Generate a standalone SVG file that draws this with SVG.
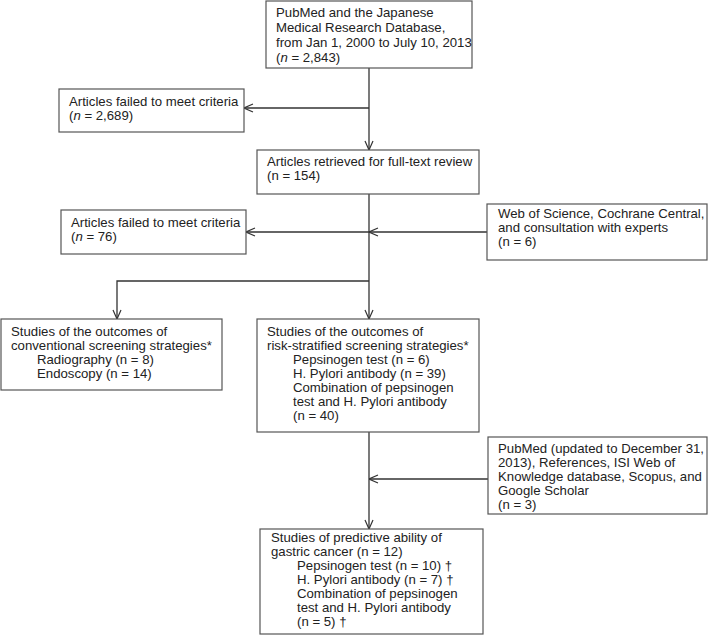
<svg xmlns="http://www.w3.org/2000/svg" width="708" height="641" viewBox="0 0 708 641">
<style>
.box{fill:#fff;stroke:#555;stroke-width:1.2}
.t{font-family:"Liberation Sans",Arial,sans-serif;font-size:13.2px;fill:#222}
.c{fill:none;stroke:#333;stroke-width:1.3}
</style>
<defs>
<marker id="ah" viewBox="0 0 10 10" refX="10" refY="5" markerWidth="10" markerHeight="10" markerUnits="userSpaceOnUse" orient="auto">
<path d="M1,1 L10,5 L1,9" fill="none" stroke="#333" stroke-width="1.2"/>
</marker>
</defs>
<rect width="708" height="641" fill="#fff"/>
<g id="connectors">
<path class="c" d="M369,68 V150" marker-end="url(#ah)"/>
<path class="c" d="M369,108 H244" marker-end="url(#ah)"/>
<path class="c" d="M369,194 V319" marker-end="url(#ah)"/>
<path class="c" d="M369,232 H246" marker-end="url(#ah)"/>
<path class="c" d="M487,232 H369" marker-end="url(#ah)"/>
<path class="c" d="M369,281 H117 V319" marker-end="url(#ah)"/>
<path class="c" d="M369,432 V529" marker-end="url(#ah)"/>
<path class="c" d="M488,479 H369" marker-end="url(#ah)"/>
</g>
<g id="n1">
<rect class="box" x="266" y="1" width="206" height="67"/>
<text class="t" x="276" y="17">PubMed and the Japanese</text>
<text class="t" x="276" y="32">Medical Research Database,</text>
<text class="t" x="276" y="47">from Jan 1, 2000 to July 10, 2013</text>
<text class="t" x="276" y="62">(<tspan font-style="italic">n</tspan> = 2,843)</text>
</g>
<g id="n2">
<rect class="box" x="59" y="89" width="185" height="43"/>
<text class="t" x="69" y="106">Articles failed to meet criteria</text>
<text class="t" x="69" y="120">(<tspan font-style="italic">n</tspan> = 2,689)</text>
</g>
<g id="n3">
<rect class="box" x="257" y="150" width="222" height="44"/>
<text class="t" x="267" y="166">Articles retrieved for full-text review</text>
<text class="t" x="267" y="180">(n = 154)</text>
</g>
<g id="n4">
<rect class="box" x="61" y="210" width="185" height="44"/>
<text class="t" x="71" y="227">Articles failed to meet criteria</text>
<text class="t" x="71" y="241">(<tspan font-style="italic">n</tspan> = 76)</text>
</g>
<g id="n5">
<rect class="box" x="487" y="204" width="220" height="56"/>
<text class="t" x="498" y="218">Web of Science, Cochrane Central,</text>
<text class="t" x="498" y="232">and consultation with experts</text>
<text class="t" x="498" y="246">(n = 6)</text>
</g>
<g id="n6">
<rect class="box" x="1" y="319" width="221" height="71"/>
<text class="t" x="11" y="336">Studies of the outcomes of</text>
<text class="t" x="11" y="350">conventional screening strategies*</text>
<text class="t" x="37" y="364">Radiography (n = 8)</text>
<text class="t" x="37" y="378">Endoscopy (n = 14)</text>
</g>
<g id="n7">
<rect class="box" x="257" y="319" width="222" height="113"/>
<text class="t" x="267" y="336">Studies of the outcomes of</text>
<text class="t" x="267" y="350">risk-stratified screening strategies*</text>
<text class="t" x="293" y="364">Pepsinogen test (n = 6)</text>
<text class="t" x="293" y="378">H. Pylori antibody (n = 39)</text>
<text class="t" x="293" y="392">Combination of pepsinogen</text>
<text class="t" x="293" y="406">test and H. Pylori antibody</text>
<text class="t" x="293" y="420">(n = 40)</text>
</g>
<g id="n8">
<rect class="box" x="488" y="437" width="219" height="77"/>
<text class="t" x="498" y="453">PubMed (updated to December 31,</text>
<text class="t" x="498" y="467">2013), References, ISI Web of</text>
<text class="t" x="498" y="481">Knowledge database, Scopus, and</text>
<text class="t" x="498" y="495">Google Scholar</text>
<text class="t" x="498" y="509">(n = 3)</text>
</g>
<g id="n9">
<rect class="box" x="260" y="529" width="223" height="105"/>
<text class="t" x="271" y="542">Studies of predictive ability of</text>
<text class="t" x="271" y="556">gastric cancer (n = 12)</text>
<text class="t" x="297" y="570">Pepsinogen test (n = 10) †</text>
<text class="t" x="297" y="584">H. Pylori antibody (n = 7) †</text>
<text class="t" x="297" y="598">Combination of pepsinogen</text>
<text class="t" x="297" y="612">test and H. Pylori antibody</text>
<text class="t" x="297" y="626">(n = 5) †</text>
</g>
</svg>
